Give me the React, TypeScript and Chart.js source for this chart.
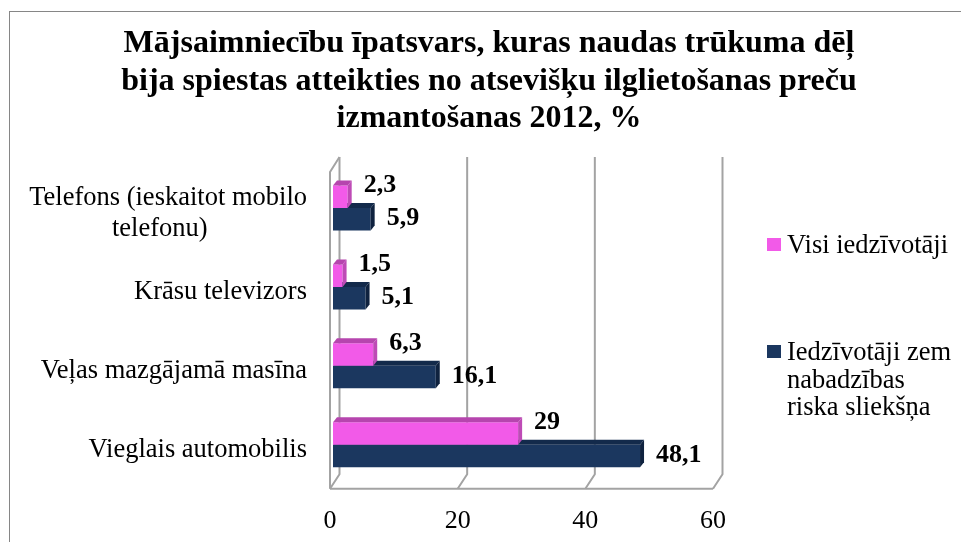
import { useEffect, useRef } from 'react';
import { Chart, registerables } from 'chart.js';

Chart.register(...registerables);

const TITLE_LINES = [
  'Mājsaimniecību īpatsvars, kuras naudas trūkuma dēļ',
  'bija spiestas atteikties no atsevišķu ilglietošanas preču',
  'izmantošanas 2012, %',
];

const CATEGORIES: (string | string[])[] = [
  ['Telefons (ieskaitot mobilo', 'telefonu)' + ' '.repeat(15)],
  'Krāsu televizors',
  'Veļas mazgājamā masīna',
  'Vieglais automobilis',
];

const SERIES_VISI = [2.3, 1.5, 6.3, 29];
const SERIES_NABADZIBA = [5.9, 5.1, 16.1, 48.1];

const LEGEND_VISI = ['Visi iedzīvotāji'];
const LEGEND_NABADZIBA = ['Iedzīvotāji zem', 'nabadzības', 'riska sliekšņa'];

const X_MIN = 0;
const X_MAX = 60;
const X_STEP = 20;

const PINK = '#F25AE8';
const PINK_TOP = '#B645AE';
const PINK_SIDE = '#BE4BB6';
const NAVY = '#1B375F';
const NAVY_TOP = '#132A4B';
const NAVY_SIDE = '#0F223F';
const GRID = '#a3a3a3';

const SERIF = "'Liberation Serif', 'Times New Roman', serif";

const fmt = (v: number) => String(v).replace('.', ',');

const frame3d = {
  id: 'frame3d',
  beforeDatasetsDraw(chart: any) {
    const { ctx, chartArea } = chart;
    const xs = chart.scales.x;
    const FRONT = -3;
    const BACK = 6.5;
    const backTop = chartArea.top - 11.5;
    const frontTop = chartArea.top + 3.5;
    const backBottom = chartArea.bottom - 10;
    const frontBottom = chartArea.bottom + 4.5;
    ctx.save();
    ctx.strokeStyle = GRID;
    ctx.lineWidth = 2;
    ctx.lineJoin = 'round';
    const ticks = xs.ticks.map((t: any) => t.value);
    ticks.forEach((v: number) => {
      const p = xs.getPixelForValue(v);
      ctx.beginPath();
      ctx.moveTo(p + BACK, backTop);
      ctx.lineTo(p + BACK, backBottom);
      ctx.lineTo(p + FRONT, frontBottom);
      ctx.stroke();
    });
    const p0 = xs.getPixelForValue(X_MIN);
    const p1 = xs.getPixelForValue(X_MAX);
    ctx.beginPath();
    ctx.moveTo(p0 + FRONT, frontBottom);
    ctx.lineTo(p1 + FRONT, frontBottom);
    ctx.stroke();
    ctx.beginPath();
    ctx.moveTo(p0 + BACK, backTop);
    ctx.lineTo(p0 + FRONT, frontTop);
    ctx.lineTo(p0 + FRONT, frontBottom);
    ctx.stroke();
    ctx.restore();
  },
};

const bars3d = {
  id: 'bars3d',
  afterDatasetDraw(chart: any, args: any) {
    const { ctx } = chart;
    const meta = args.meta;
    const top = args.index === 0 ? PINK_TOP : NAVY_TOP;
    const side = args.index === 0 ? PINK_SIDE : NAVY_SIDE;
    const D = 4;
    const DY = 5;
    ctx.save();
    meta.data.forEach((bar: any) => {
      const { x, y, base, height } = bar.getProps(['x', 'y', 'base', 'height'], true);
      const t = y - height / 2;
      const b = y + height / 2;
      ctx.fillStyle = top;
      ctx.beginPath();
      ctx.moveTo(base, t);
      ctx.lineTo(base + D, t - DY);
      ctx.lineTo(x + D, t - DY);
      ctx.lineTo(x, t);
      ctx.closePath();
      ctx.fill();
      ctx.fillStyle = side;
      ctx.beginPath();
      ctx.moveTo(x, t);
      ctx.lineTo(x + D, t - DY);
      ctx.lineTo(x + D, b - DY);
      ctx.lineTo(x, b);
      ctx.closePath();
      ctx.fill();
    });
    ctx.restore();
  },
};

const decorations = {
  id: 'decorations',
  afterDatasetsDraw(chart: any) {
    const { ctx } = chart;
    ctx.save();
    ctx.fillStyle = '#000';
    ctx.font = `bold 26px ${SERIF}`;
    ctx.textAlign = 'left';
    ctx.textBaseline = 'middle';
    chart.data.datasets.forEach((ds: any, di: number) => {
      const meta = chart.getDatasetMeta(di);
      meta.data.forEach((bar: any, i: number) => {
        const { x, y } = bar.getProps(['x', 'y'], true);
        const dy = di === 0 ? -11 : -1;
        ctx.fillText(fmt(ds.data[i]), x + 16, y + dy);
      });
    });
    ctx.restore();
  },
  afterDraw(chart: any) {
    const { ctx } = chart;
    ctx.save();
    // outer border
    ctx.strokeStyle = '#868686';
    ctx.lineWidth = 1;
    ctx.strokeRect(9.5, 11.5, 970, 560);
    // title
    ctx.fillStyle = '#000';
    ctx.font = `bold 32px ${SERIF}`;
    ctx.textAlign = 'center';
    ctx.textBaseline = 'alphabetic';
    TITLE_LINES.forEach((line, i) => {
      ctx.fillText(line, 489, 52 + i * 37.5);
    });
    // legend
    ctx.font = `26.5px ${SERIF}`;
    ctx.textAlign = 'left';
    const items = [
      { lines: LEGEND_VISI, color: PINK, y: 253 },
      { lines: LEGEND_NABADZIBA, color: NAVY, y: 360 },
    ];
    items.forEach((it) => {
      ctx.fillStyle = it.color;
      ctx.fillRect(767, it.y - 15, 14, 13);
      ctx.fillStyle = '#000';
      it.lines.forEach((l, j) => ctx.fillText(l, 787, it.y + j * 27.5));
    });
    ctx.restore();
  },
};

export default function App() {
  const ref = useRef<HTMLCanvasElement | null>(null);
  useEffect(() => {
    if (!ref.current) return;
    const chart = new Chart(ref.current, {
      type: 'bar',
      data: {
        labels: CATEGORIES as any,
        datasets: [
          {
            label: LEGEND_VISI.join(' '),
            data: SERIES_VISI,
            backgroundColor: PINK,
            borderWidth: 0,
            categoryPercentage: 0.57,
            barPercentage: 1,
          },
          {
            label: LEGEND_NABADZIBA.join(' '),
            data: SERIES_NABADZIBA,
            backgroundColor: NAVY,
            borderWidth: 0,
            categoryPercentage: 0.57,
            barPercentage: 1,
          },
        ],
      },
      options: {
        indexAxis: 'y',
        animation: false,
        responsive: false,
        devicePixelRatio: 1,
        layout: { padding: { top: 168.5, right: 245, left: 0, bottom: 0 } },
        plugins: {
          legend: { display: false },
          title: { display: false },
          tooltip: { enabled: false },
        },
        scales: {
          x: {
            min: X_MIN,
            max: X_MAX,
            ticks: {
              stepSize: X_STEP,
              color: '#000',
              font: { family: SERIF, size: 26, lineHeight: 1.2 },
              padding: 21,
              labelOffset: -3,
            },
            grid: { display: false, drawTicks: false },
            border: { display: false },
            afterFit: (s: any) => {
              s.height = 57.5;
            },
          },
          y: {
            ticks: {
              color: '#000',
              font: { family: SERIF, size: 26.5, lineHeight: 1.2 },
              padding: 26,
              labelOffset: 5.5,
              autoSkip: false,
            },
            grid: { display: false, drawTicks: false },
            border: { display: false },
            afterFit: (s: any) => {
              s.width = 333;
            },
          },
        },
      },
      plugins: [frame3d, bars3d, decorations],
    } as any);
    return () => chart.destroy();
  }, []);
  return (
    <div style={{ position: 'fixed', left: 0, top: 0, width: 961, height: 542, background: '#fff' }}>
      <canvas ref={ref} width={961} height={542} style={{ display: 'block', width: 961, height: 542 }} />
    </div>
  );
}
